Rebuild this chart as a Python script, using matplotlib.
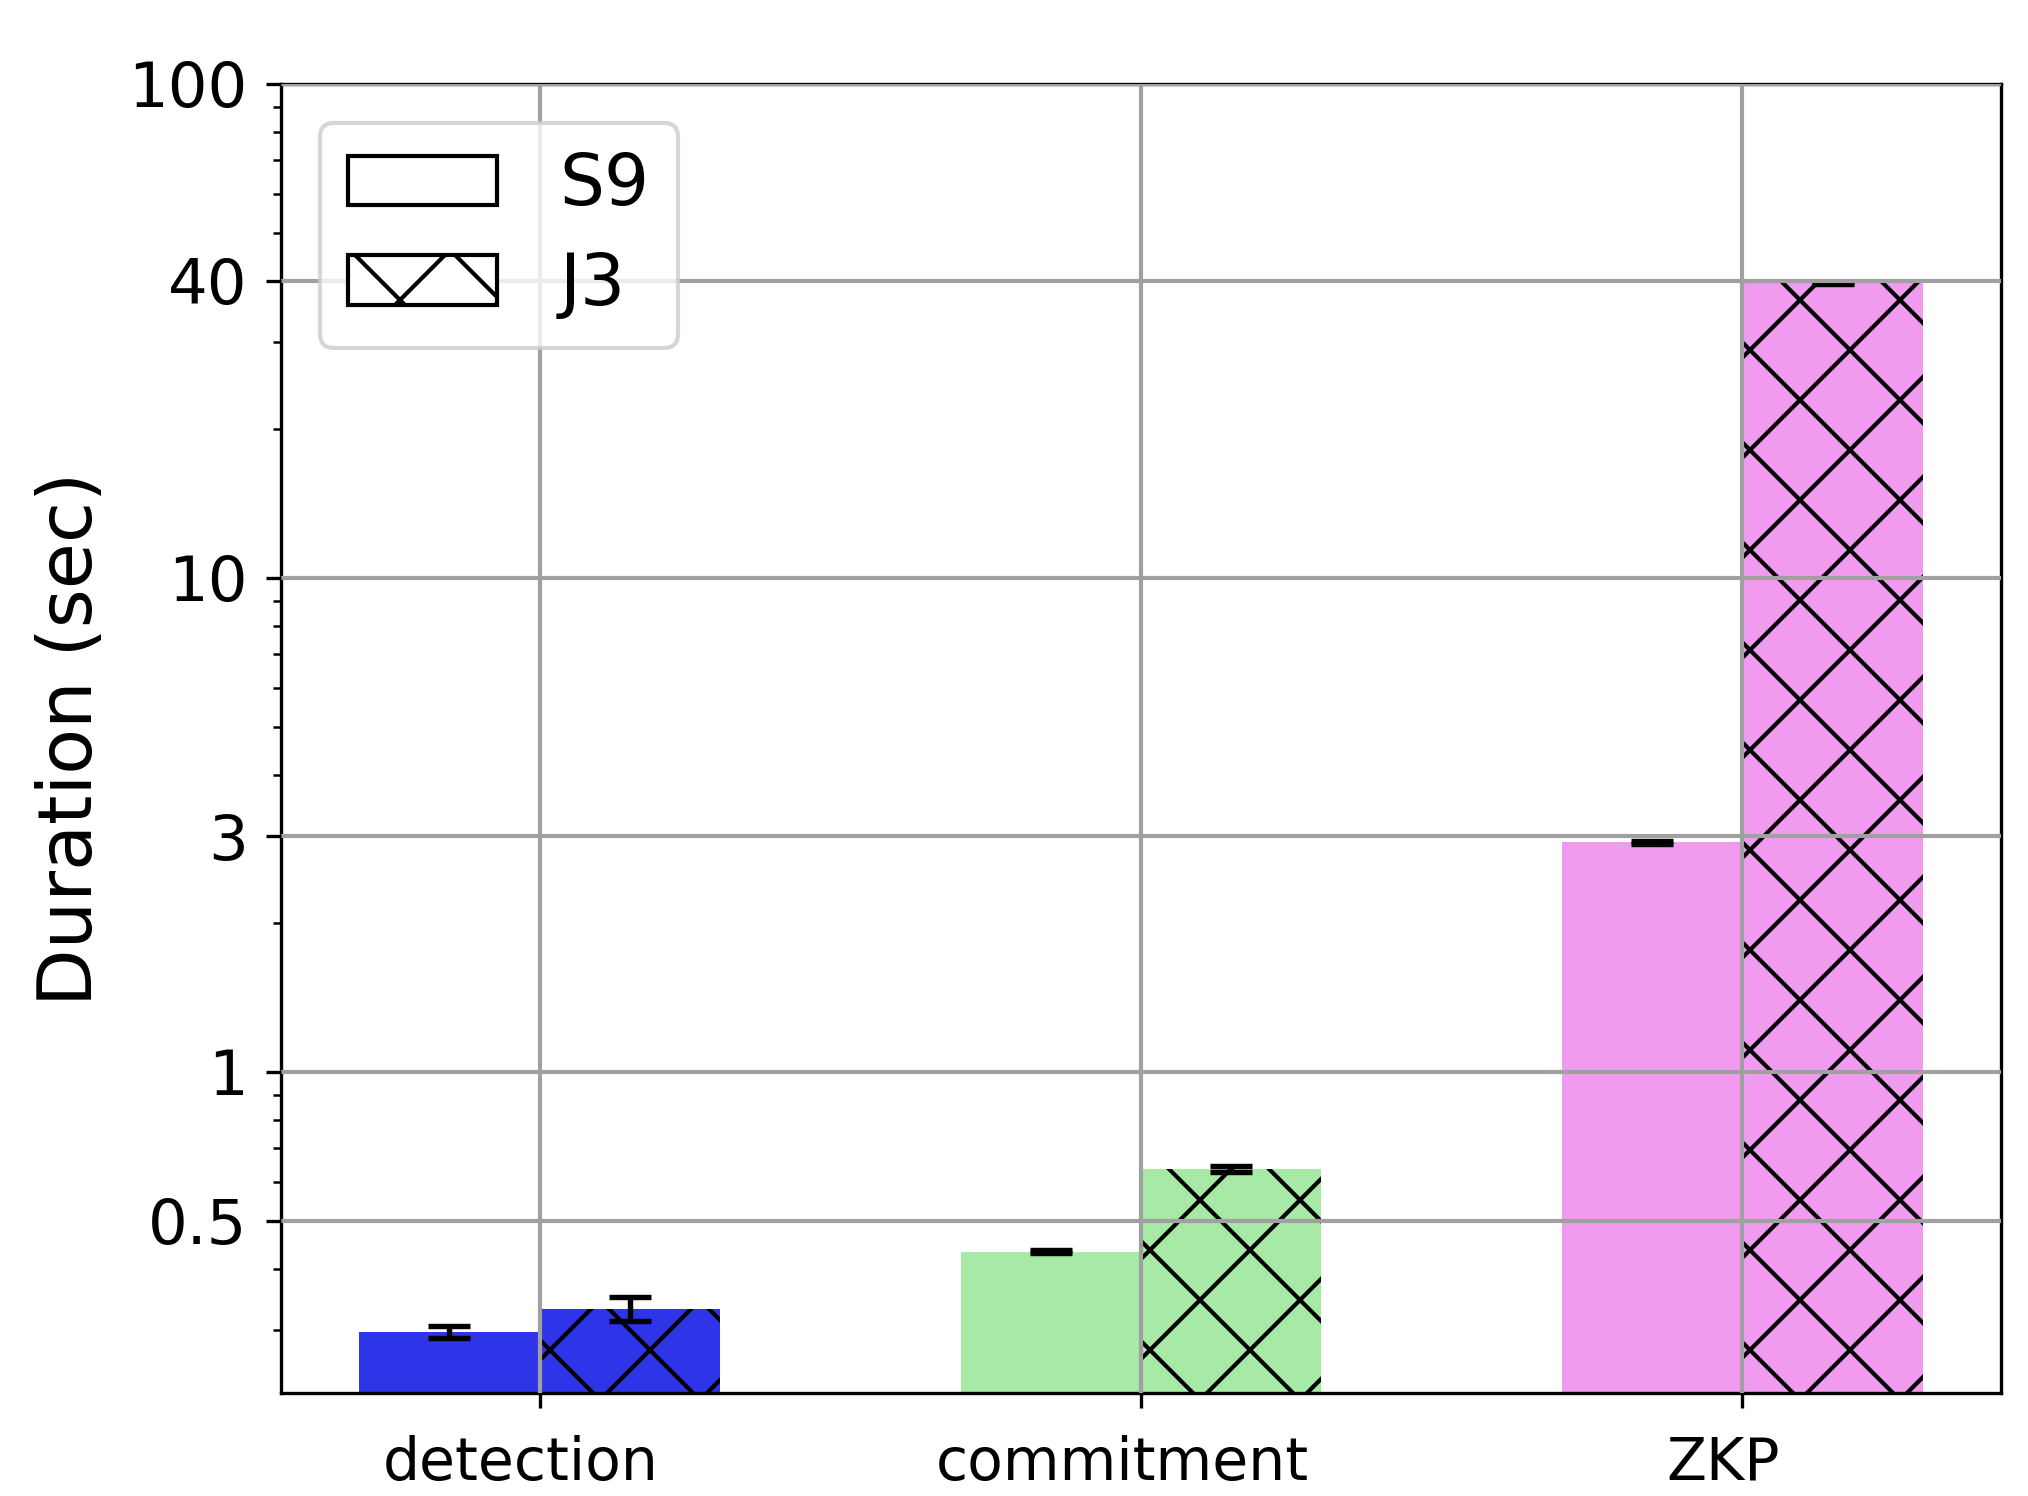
import numpy as np
import matplotlib
matplotlib.use("Agg")
import matplotlib.pyplot as plt
from matplotlib.patches import Patch
from matplotlib.transforms import ScaledTranslation

# stages measured
stages = ["detection", "commitment", "ZKP"]
colors = ["#2e35e8", "#a6eaa6", "#f09af0"]

# mean duration (sec) per device
s9_mean = [0.298, 0.433, 2.92]
s9_err = [0.008, 0.003, 0.02]
j3_mean = [0.332, 0.636, 39.6]
j3_err = [0.019, 0.008, 0.2]

yticks = [0.5, 1, 3, 10, 40, 100]
ytick_labels = ["0.5", "1", "3", "10", "40", "100"]

x = np.arange(len(stages))
width = 0.3

fig = plt.figure(figsize=(2028 / 300, 1496 / 300), dpi=300)
ax = fig.add_axes([0.1386, 0.0689, 0.8481, 0.875])

# S9 bars on the left of each tick, J3 (hatched) on the right
ax.bar(x - width / 2, s9_mean, width, color=colors, yerr=s9_err,
       capsize=5, error_kw=dict(elinewidth=1.3, capthick=1.3), zorder=2)
ax.bar(x + width / 2, j3_mean, width, color=colors, hatch="x", yerr=j3_err,
       capsize=5, error_kw=dict(elinewidth=1.3, capthick=1.3), zorder=2)

ax.set_yscale("log")
ax.set_ylim(0.224, 100)
ax.set_yticks(yticks)
ax.set_yticklabels(ytick_labels)
ax.set_xticks(x)
ax.set_xticklabels(stages)
ax.tick_params(axis="x", labelsize=14, pad=6.5)
ax.tick_params(axis="y", labelsize=15, pad=4.5)
ax.grid(True, color="#a0a0a0", linewidth=1.0, zorder=3)
ax.set_axisbelow(False)

# labels in the reference sit a little left of the ticks
for lab in ax.get_xticklabels():
    lab.set_transform(lab.get_transform() + ScaledTranslation(-19 / 300, 0, fig.dpi_scale_trans))

ax.set_ylabel("Duration (sec)", fontsize=18, labelpad=5)

handles = [Patch(facecolor="white", edgecolor="black", label="S9"),
           Patch(facecolor="white", edgecolor="black", hatch="x", label="J3")]
ax.legend(handles=handles, loc="upper left", fontsize=17, handlelength=2.1,
          borderaxespad=0.55, borderpad=0.4, labelspacing=0.43, handletextpad=0.88)

fig.savefig("out.png", dpi=300)
